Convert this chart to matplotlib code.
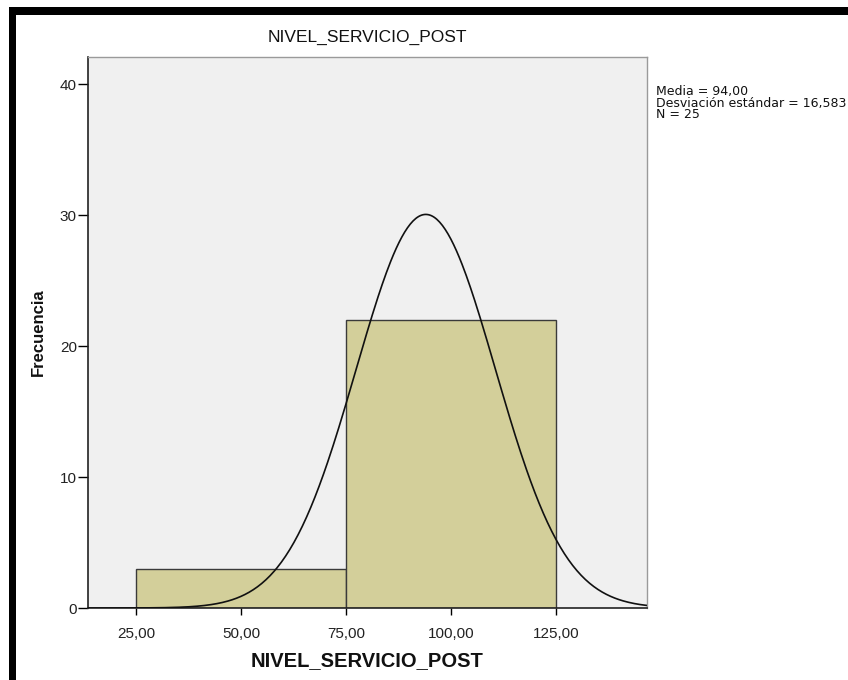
import numpy as np
import matplotlib
matplotlib.use("Agg")
import matplotlib.pyplot as plt
from matplotlib.patches import Rectangle

plt.rcParams['font.family'] = ['Liberation Sans', 'DejaVu Sans']

bin_edges = [25, 75, 125]
counts = [3, 22]
mean = 94.0
sd = 16.583
n = 25
xticks = [25, 50, 75, 100, 125]
xtick_labels = ["25,00", "50,00", "75,00", "100,00", "125,00"]
yticks = [0, 10, 20, 30, 40]
title = "NIVEL_SERVICIO_POST"
xlabel = "NIVEL_SERVICIO_POST"
ylabel = "Frecuencia"
stats_text = "Media = 94,00\nDesviación estándar = 16,583\nN = 25"

W, H = 848, 680
fig = plt.figure(figsize=(W / 100, H / 100), dpi=100)
fig.patch.set_facecolor('white')

left, right, top, bottom = 88, 647, 57, 608
ax = fig.add_axes([left / W, 1 - bottom / H, (right - left) / W, (bottom - top) / H])
ax.set_facecolor('#F0F0F0')

widths = np.diff(bin_edges)
ax.bar(bin_edges[:-1], counts, width=widths, align='edge', color='#D3CF9A',
       edgecolor='#3a3a3a', linewidth=1.0, zorder=2)

binw = widths[0]
xmin, xmax = 13.57, 146.67
xs = np.linspace(xmin, xmax, 400)
ys = n * binw / (sd * np.sqrt(2 * np.pi)) * np.exp(-0.5 * ((xs - mean) / sd) ** 2)
ax.plot(xs, ys, color='#111111', linewidth=1.2, zorder=3)

ax.set_xlim(xmin, xmax)
ax.set_ylim(0, 42.1)
ax.set_xticks(xticks)
ax.set_xticklabels(xtick_labels, fontsize=11, color='#222222')
ax.set_yticks(yticks)
ax.set_yticklabels([str(v) for v in yticks], fontsize=11, color='#222222')
ax.tick_params(axis='y', length=7, width=1, direction='out', pad=1)
ax.tick_params(axis='x', length=5, width=1, direction='out', pad=9)

for s in ['left', 'bottom']:
    ax.spines[s].set_color('#222222')
    ax.spines[s].set_linewidth(1.2)
for s in ['top', 'right']:
    ax.spines[s].set_color('#9a9a9a')
    ax.spines[s].set_linewidth(1.0)

ax.set_title(title, fontsize=12.5, pad=11, color='#111111')
ax.set_xlabel(xlabel, fontsize=14.5, fontweight='bold', labelpad=7, color='#111111')
ax.set_ylabel(ylabel, fontsize=12, fontweight='bold', labelpad=10, color='#111111')

fig.text(656 / W, 1 - 85 / H, stats_text, fontsize=9, va='top', ha='left',
         linespacing=0.85, color='#111111', family=['DejaVu Sans'])

fig.patches.append(Rectangle((9 / W, 1 - 15 / H), 1 - 9 / W, 8 / H, transform=fig.transFigure,
                             facecolor='black', edgecolor='none', figure=fig))
fig.patches.append(Rectangle((9 / W, 0), 7 / W, 1 - 7 / H, transform=fig.transFigure,
                             facecolor='black', edgecolor='none', figure=fig))

fig.savefig('out.png', dpi=100)
